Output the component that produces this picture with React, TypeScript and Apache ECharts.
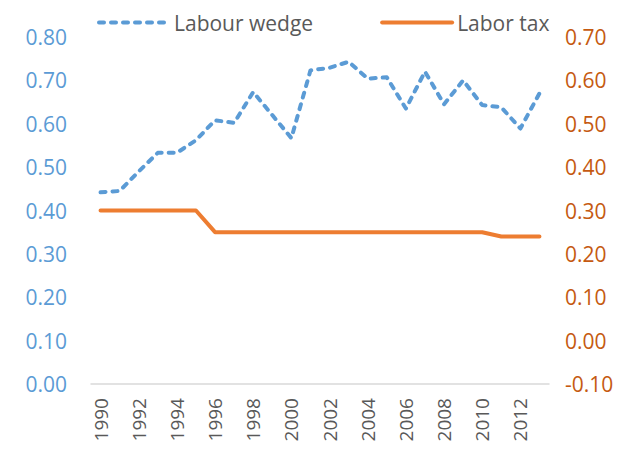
import React, { useEffect, useRef } from "react";
import * as echarts from "echarts";

const years = ["1990","1991","1992","1993","1994","1995","1996","1997","1998","1999","2000","2001","2002","2003","2004","2005","2006","2007","2008","2009","2010","2011","2012","2013"];
const labourWedge = [0.442,0.445,0.49,0.533,0.533,0.562,0.608,0.602,0.673,0.62,0.567,0.723,0.729,0.743,0.704,0.707,0.635,0.72,0.645,0.70,0.643,0.638,0.589,0.67];
const laborTax = [0.30,0.30,0.30,0.30,0.30,0.30,0.25,0.25,0.25,0.25,0.25,0.25,0.25,0.25,0.25,0.25,0.25,0.25,0.25,0.25,0.25,0.24,0.24,0.24];

const FONT = "'Open Sans', sans-serif";

export default function App() {
  const ref = useRef<HTMLDivElement>(null);
  useEffect(() => {
    if (!ref.current) return;
    const chart = echarts.init(ref.current, undefined, { renderer: "svg" });
    chart.setOption({
      animation: false,
      textStyle: { fontFamily: FONT },
      legend: {
        left: 92,
        top: 7,
        itemWidth: 70,
        itemHeight: 14,
        itemGap: 67,
        itemStyle: { opacity: 0 },
        lineStyle: { width: 4, cap: "round" },
        textStyle: { color: "#595959", fontSize: 21, fontFamily: FONT },
        data: ["Labour wedge", "Labor tax"],
      },
      grid: { left: 91, right: 85, top: 37, bottom: 70, containLabel: false },
      xAxis: {
        type: "category",
        data: years,
        boundaryGap: true,
        axisLine: { lineStyle: { color: "#D9D9D9", width: 1.5 } },
        axisTick: { show: false },
        axisLabel: { interval: 1, rotate: 90, color: "#595959", fontSize: 19, margin: 14, fontFamily: FONT },
      },
      yAxis: [
        {
          type: "value", min: 0, max: 0.8, interval: 0.1,
          axisLine: { show: false }, axisTick: { show: false }, splitLine: { show: false },
          axisLabel: { color: "#5B9BD5", fontSize: 21, margin: 24, fontFamily: FONT, formatter: (v: number) => v.toFixed(2) },
        },
        {
          type: "value", min: -0.1, max: 0.7, interval: 0.1,
          axisLine: { show: false }, axisTick: { show: false }, splitLine: { show: false },
          axisLabel: { color: "#C55A11", fontSize: 21, margin: 16, fontFamily: FONT, formatter: (v: number) => v.toFixed(2) },
        },
      ],
      series: [
        {
          name: "Labour wedge", type: "line", yAxisIndex: 0, data: labourWedge,
          symbol: "none",
          lineStyle: { color: "#5B9BD5", width: 4, type: [5, 7], cap: "round", join: "round" },
          itemStyle: { color: "#5B9BD5" },
        },
        {
          name: "Labor tax", type: "line", yAxisIndex: 1, data: laborTax,
          symbol: "none",
          lineStyle: { color: "#ED7D31", width: 4, cap: "round", join: "round" },
          itemStyle: { color: "#ED7D31" },
        },
      ],
    });
    return () => chart.dispose();
  }, []);
  return <div ref={ref} style={{ width: 634, height: 454, margin: -8 }} />;
}
